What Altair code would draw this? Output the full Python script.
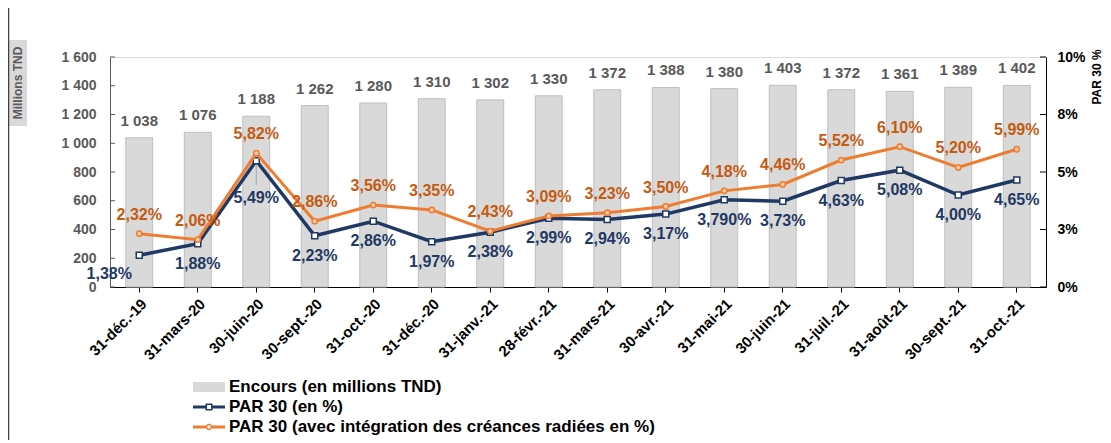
import altair as alt
import pandas as pd

dates = ["31-déc.-19", "31-mars-20", "30-juin-20", "30-sept.-20", "31-oct.-20",
         "31-déc.-20", "31-janv.-21", "28-févr.-21", "31-mars-21", "30-avr.-21",
         "31-mai-21", "30-juin-21", "31-juil.-21", "31-août-21", "30-sept.-21", "31-oct.-21"]
encours = [1038, 1076, 1188, 1262, 1280, 1310, 1302, 1330, 1372, 1388, 1380, 1403, 1372, 1361, 1389, 1402]
par30 = [1.38, 1.88, 5.49, 2.23, 2.86, 1.97, 2.38, 2.99, 2.94, 3.17, 3.79, 3.73, 4.63, 5.08, 4.00, 4.65]
par30_rad = [2.32, 2.06, 5.82, 2.86, 3.56, 3.35, 2.43, 3.09, 3.23, 3.50, 4.18, 4.46, 5.52, 6.10, 5.20, 5.99]
par30_labels = ["1,38%", "1,88%", "5,49%", "2,23%", "2,86%", "1,97%", "2,38%", "2,99%", "2,94%",
                "3,17%", "3,790%", "3,73%", "4,63%", "5,08%", "4,00%", "4,65%"]
par30_rad_labels = ["2,32%", "2,06%", "5,82%", "2,86%", "3,56%", "3,35%", "2,43%", "3,09%", "3,23%",
                    "3,50%", "4,18%", "4,46%", "5,52%", "6,10%", "5,20%", "5,99%"]
left_ticks = [0, 200, 400, 600, 800, 1000, 1200, 1400, 1600]
right_ticks = [0, 2.5, 5, 7.5, 10]
series_names = ["Encours (en millions TND)", "PAR 30 (en %)",
                "PAR 30 (avec intégration des créances radiées en %)"]
series_colors = ["#d9d9d9", "#1f3864", "#ed7d31"]

W, H = 936, 230
FONT = "Liberation Sans"
NAVY = "#1f3864"
ORANGE = "#ed7d31"
ORANGE_TXT = "#c55a11"
GREY_TXT = "#595959"

df = pd.DataFrame({
    "date": dates,
    "encours": encours,
    "enc_lab": [f"{v:,}".replace(",", " ") for v in encours],
    "par30": par30,
    "rad": par30_rad,
    "lab30": par30_labels,
    "labrad": par30_rad_labels,
    "idx": list(range(len(dates))),
})

XSCALE = alt.Scale(paddingInner=0.54, paddingOuter=0.27)
XAXIS = alt.Axis(title=None, labelAngle=-45, labelFont=FONT, labelFontSize=15,
                 labelFontWeight="bold", labelColor="black", domainColor="black",
                 tickColor="black", tickSize=5, labelPadding=4, grid=False)
X = alt.X("date:N", sort=dates, scale=XSCALE, axis=XAXIS)

LDOM = alt.Scale(domain=[0, 1600])
RDOM = alt.Scale(domain=[0, 10])
LAXIS = alt.Axis(values=left_ticks, title=None, grid=False, tickSize=0, labelPadding=14,
                 labelExpr="replace(format(datum.value, ','), ',', ' ')",
                 labelFont=FONT, labelFontSize=14, labelFontWeight="bold",
                 labelColor=GREY_TXT, domainColor="#595959")
RAXIS = alt.Axis(orient="right", values=right_ticks, title=None, grid=False, tickSize=0,
                 labelPadding=11, labelExpr="round(datum.value) + '%'",
                 labelFont=FONT, labelFontSize=14, labelFontWeight="bold",
                 labelColor="black", domainColor="black")


def yl(field):
    return alt.Y(field, scale=LDOM, axis=LAXIS)


def yr(field):
    return alt.Y(field, scale=RDOM, axis=RAXIS)


base = alt.Chart(df)

bars = base.mark_bar(color="#d9d9d9", stroke="#bfbfbf", strokeWidth=1).encode(
    x=X, y=yl("encours:Q"))
bar_labels = base.mark_text(dy=-17, baseline="middle", font=FONT, fontSize=15,
                            fontWeight="bold", color=GREY_TXT).encode(
    x=X, y=yl("encours:Q"), text="enc_lab:N")

lt = alt.Chart(pd.DataFrame({"v": left_ticks})).mark_rule(color="#595959", strokeWidth=1).encode(
    y=yl("v:Q"), x=alt.value(0), x2=alt.value(5))

deco = alt.Chart(pd.DataFrame({"t": ["Millions TND"]}))
mbox = deco.mark_rect(color="#d9d9d9").encode(
    x=alt.value(-102), x2=alt.value(-83), y=alt.value(-17), y2=alt.value(69))
mtxt = deco.mark_text(angle=270, font=FONT, fontSize=12, fontWeight="bold", color=GREY_TXT,
                      baseline="middle", align="center").encode(
    x=alt.value(-92.5), y=alt.value(26), text="t:N")
frame = deco.mark_rule(color="#404040", strokeWidth=1.5).encode(
    x=alt.value(-101.5), y=alt.value(-57), y2=alt.value(386))
rtitle = alt.Chart(pd.DataFrame({"t": ["PAR 30 %"]})).mark_text(
    angle=270, font=FONT, fontSize=12, fontWeight="bold", color="black",
    baseline="middle", align="center").encode(x=alt.value(987), y=alt.value(20), text="t:N")

legend = alt.Legend(title=None, orient="none", legendX=89, legendY=320, padding=0,
                    direction="vertical", labelFont=FONT, labelFontSize=17,
                    labelFontWeight="bold", labelColor="black", labelLimit=700,
                    symbolSize=400, symbolStrokeWidth=0, symbolOpacity=1,
                    rowPadding=2, labelOffset=10)
paths = [
    "M-1.6,-0.5H1.6V0.5H-1.6Z",
    "M-1.6,-0.15H-0.35V-0.35H0.35V-0.15H1.6V0.15H0.35V0.35H-0.35V0.15H-1.6Z"
    "M-0.2,-0.2V0.2H0.2V-0.2Z",
    "M-1.6,-0.15H-0.3V0.15H-1.6Z M0.3,-0.15H1.6V0.15H0.3Z"
    "M0.32,0A0.32,0.32 0 1,1 -0.32,0A0.32,0.32 0 1,1 0.32,0Z"
    "M0.17,0A0.17,0.17 0 1,0 -0.17,0A0.17,0.17 0 1,0 0.17,0Z",
]
leg_layer = alt.Chart(pd.DataFrame({"s": series_names})).mark_point(filled=True, opacity=0).encode(
    color=alt.Color("s:N", sort=series_names,
                    scale=alt.Scale(domain=series_names, range=series_colors), legend=legend),
    shape=alt.Shape("s:N", sort=series_names,
                    scale=alt.Scale(domain=series_names, range=paths), legend=legend),
)

left = alt.layer(mbox, mtxt, frame, bars, bar_labels, lt, leg_layer)

navy_line = base.mark_line(color=NAVY, strokeWidth=3.5).encode(x=X, y=yr("par30:Q"))
leader = base.transform_filter("datum.idx == 2").mark_rule(
    color="#a6a6a6", strokeWidth=1, yOffset=3, y2Offset=24).encode(
    x=X, y=yr("par30:Q"), y2=alt.Y2("par30:Q"))
navy_pts = base.mark_square(filled=True, fill="white", stroke=NAVY, strokeWidth=1.5,
                            size=36, opacity=1).encode(x=X, y=yr("par30:Q"))
orange_line = base.mark_line(color=ORANGE, strokeWidth=3).encode(x=X, y=yr("rad:Q"))
orange_pts = base.mark_circle(fill="#f8cbad", stroke=ORANGE, strokeWidth=1.5,
                              size=28, opacity=1).encode(x=X, y=yr("rad:Q"))

txt = dict(font=FONT, fontSize=16, fontWeight="bold", baseline="middle")
navy_lab = base.transform_filter("datum.idx != 0 && datum.idx != 2").mark_text(
    dy=20, color=NAVY, **txt).encode(x=X, y=yr("par30:Q"), text="lab30:N")
navy_lab0 = base.transform_filter("datum.idx == 0").mark_text(
    dy=19, dx=-30, color=NAVY, **txt).encode(x=X, y=yr("par30:Q"), text="lab30:N")
navy_lab2 = base.transform_filter("datum.idx == 2").mark_text(
    dy=37, color=NAVY, **txt).encode(x=X, y=yr("par30:Q"), text="lab30:N")
orange_lab = base.mark_text(dy=-19, color=ORANGE_TXT, **txt).encode(
    x=X, y=yr("rad:Q"), text="labrad:N")

rt = alt.Chart(pd.DataFrame({"v": right_ticks})).mark_rule(color="black", strokeWidth=1).encode(
    y=yr("v:Q"), x=alt.value(W - 6), x2=alt.value(W))

right = alt.layer(navy_line, leader, navy_pts, orange_line, orange_pts,
                  navy_lab, navy_lab0, navy_lab2, orange_lab, rt, rtitle)

chart = alt.layer(left, right).resolve_scale(y="independent").properties(
    width=W, height=H,
    padding={"left": 102, "top": 49, "right": 57, "bottom": 153},
    autosize=alt.AutoSizeParams(type="none"),
).configure_view(stroke=None).configure(font=FONT)

chart.save("out.html", embed_options={"renderer": "svg", "actions": False})
